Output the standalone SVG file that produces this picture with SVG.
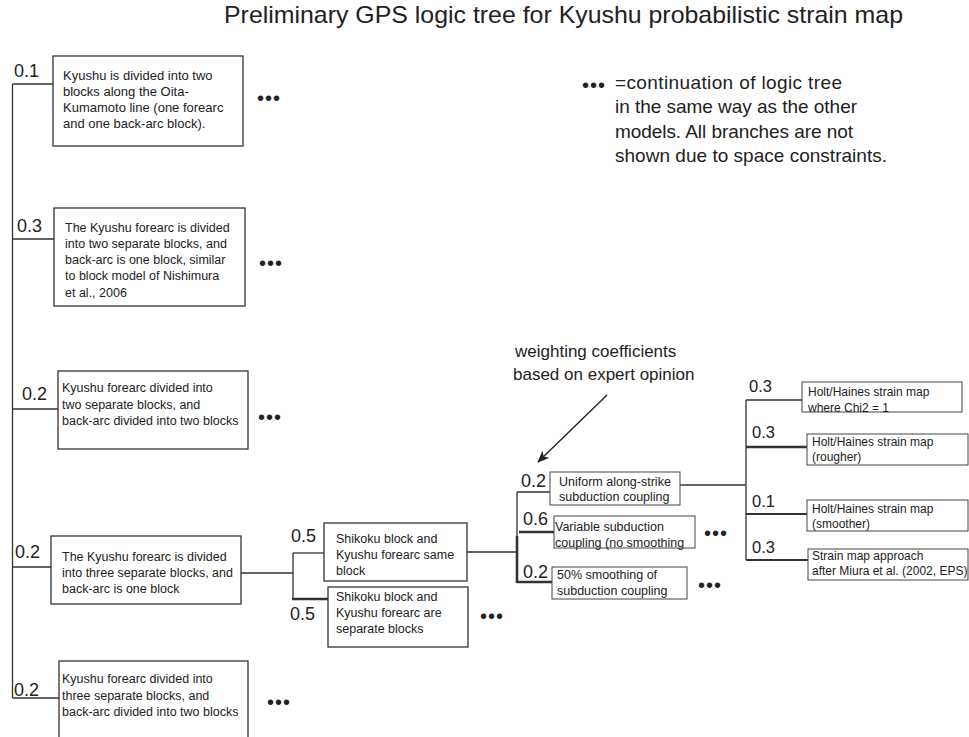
<svg xmlns="http://www.w3.org/2000/svg" width="969" height="737" viewBox="0 0 969 737">
<defs>
<style>
.bx{fill:#fff;stroke:#333;stroke-width:1.3}
.bxs{fill:#fff;stroke:#444;stroke-width:1}
.t{font-family:"Liberation Sans",Arial,sans-serif;fill:#222}
.s13{font-size:13px}
.s125{font-size:12.5px}
.s12{font-size:12px}
.w{font-family:"Liberation Sans",Arial,sans-serif;fill:#222;font-size:18px}
.wr{font-family:"Liberation Sans",Arial,sans-serif;fill:#222;font-size:16.5px}
.dots{font-family:"Liberation Sans",Arial,sans-serif;fill:#222;font-size:20px;letter-spacing:1px}
.ln{stroke:#333;stroke-width:1.3;fill:none}
.th{stroke-width:2.6}
.md{stroke-width:2}
</style>
<marker id="ah" markerWidth="12" markerHeight="10" refX="11" refY="5" orient="auto" markerUnits="userSpaceOnUse">
<path d="M0,0 L12,5 L0,10 L3,5 Z" fill="#222"/>
</marker>
</defs>
<rect width="969" height="737" fill="#fff"/>

<text class="t" x="224" y="23" font-size="24" textLength="679" lengthAdjust="spacingAndGlyphs">Preliminary GPS logic tree for Kyushu probabilistic strain map</text>

<g id="legend">
<text class="dots" x="582" y="92">•••</text>
<text class="t" font-size="19"><tspan x="615" y="89" textLength="227" lengthAdjust="spacing">=continuation of logic tree</tspan><tspan x="615" y="113" textLength="242" lengthAdjust="spacing">in the same way as the other</tspan><tspan x="615" y="138" textLength="238" lengthAdjust="spacing">models. All branches are not</tspan><tspan x="615" y="162" textLength="272" lengthAdjust="spacing">shown due to space constraints.</tspan></text>
</g>

<g id="annotation">
<text class="t" font-size="17"><tspan x="515" y="357">weighting coefficients</tspan><tspan x="513" y="380">based on expert opinion</tspan></text>
<line class="ln" x1="607" y1="395" x2="538" y2="462" marker-end="url(#ah)" style="stroke:#222;stroke-width:1.4"/>
</g>

<g id="connectors">
<path class="ln" d="M12.5,84 V698"/>
<path class="ln" d="M12.5,84 H53"/>
<path class="ln" d="M12.5,239 H54"/>
<path class="ln" d="M12.5,409 H58"/>
<path class="ln" d="M12.5,567 H51"/>
<path class="ln" d="M12.5,698 H59"/>
<path class="ln" d="M241,573 H293"/>
<path class="ln" d="M293,553 V599"/>
<path class="ln" d="M293,553 H324"/>
<path class="ln th" d="M292,599 H328"/>
<path class="ln" d="M467,552 H517"/>
<path class="ln" d="M517,492 V540"/>
<path class="ln th" d="M517,536 V583"/>
<path class="ln" d="M517,492 H550"/>
<path class="ln th" d="M519,532 H554"/>
<path class="ln th" d="M517,582 H552"/>
<path class="ln" d="M680,485 H746"/>
<path class="ln" d="M746,400 V560"/>
<path class="ln" d="M746,400 H802"/>
<path class="ln th" d="M746,447 H807"/>
<path class="ln md" d="M746,514 H807"/>
<path class="ln md" d="M746,560 H808"/>
</g>

<g id="weights">
<text class="w" x="14" y="77">0.1</text>
<text class="w" x="17" y="232">0.3</text>
<text class="w" x="22" y="400">0.2</text>
<text class="w" x="15" y="558">0.2</text>
<text class="w" x="14" y="696">0.2</text>
<text class="w" x="291" y="542">0.5</text>
<text class="w" x="290" y="620">0.5</text>
<text class="w" x="521" y="487">0.2</text>
<text class="w" x="523" y="525">0.6</text>
<text class="w" x="523" y="578">0.2</text>
<text class="wr" x="749" y="392">0.3</text>
<text class="wr" x="752" y="438">0.3</text>
<text class="wr" x="752" y="507">0.1</text>
<text class="wr" x="752" y="553">0.3</text>
</g>

<g id="n-two-blocks">
<rect class="bx" x="53" y="56" width="190" height="90"/>
<text class="t s13"><tspan x="63" y="80">Kyushu is divided into two</tspan><tspan x="63" y="96">blocks along the Oita-</tspan><tspan x="63" y="112">Kumamoto line (one forearc</tspan><tspan x="63" y="128">and one back-arc block).</tspan></text>
<text class="dots" x="257" y="105">•••</text>
</g>

<g id="n-nishimura">
<rect class="bx" x="54" y="208" width="191" height="98"/>
<text class="t s125"><tspan x="65" y="232">The Kyushu forearc is divided</tspan><tspan x="65" y="248">into two separate blocks, and</tspan><tspan x="65" y="264">back-arc is one block, similar</tspan><tspan x="65" y="280">to block model of Nishimura</tspan><tspan x="65" y="297">et al., 2006</tspan></text>
<text class="dots" x="259" y="270">•••</text>
</g>

<g id="n-two-two">
<rect class="bx" x="58" y="371" width="190" height="78"/>
<text class="t s125"><tspan x="62" y="392">Kyushu forearc divided into</tspan><tspan x="62" y="408.5">two separate blocks, and</tspan><tspan x="62" y="425">back-arc divided into two blocks</tspan></text>
<text class="dots" x="258" y="424">•••</text>
</g>

<g id="n-three-one">
<rect class="bx" x="51" y="536" width="190" height="68"/>
<text class="t s125"><tspan x="62" y="561">The Kyushu forearc is divided</tspan><tspan x="62" y="577">into three separate blocks, and</tspan><tspan x="62" y="593">back-arc is one block</tspan></text>
</g>

<g id="n-three-two">
<rect class="bx" x="59" y="661" width="189" height="90"/>
<text class="t s125"><tspan x="62" y="683">Kyushu forearc divided into</tspan><tspan x="62" y="699.5">three separate blocks, and</tspan><tspan x="62" y="716">back-arc divided into two blocks</tspan></text>
<text class="dots" x="267" y="709">•••</text>
</g>

<g id="n-shikoku-same">
<rect class="bx" x="324" y="523" width="143" height="58"/>
<text class="t s125"><tspan x="336" y="543">Shikoku block and</tspan><tspan x="336" y="559">Kyushu forearc same</tspan><tspan x="336" y="575">block</tspan></text>
</g>

<g id="n-shikoku-separate">
<rect class="bx" x="328" y="587" width="140" height="60"/>
<text class="t s125"><tspan x="336" y="601">Shikoku block and</tspan><tspan x="336" y="617">Kyushu forearc are</tspan><tspan x="336" y="633">separate blocks</tspan></text>
<text class="dots" x="480" y="623">•••</text>
</g>

<g id="n-uniform">
<rect class="bxs" x="550" y="472" width="130" height="33"/>
<text class="t s125"><tspan x="559" y="486">Uniform along-strike</tspan><tspan x="559" y="501">subduction coupling</tspan></text>
</g>

<g id="n-variable">
<rect class="bxs" x="554" y="516" width="141" height="32"/>
<text class="t s125"><tspan x="555" y="531">Variable subduction</tspan><tspan x="555" y="547">coupling (no smoothing</tspan></text>
<text class="dots" x="704" y="540">•••</text>
</g>

<g id="n-smoothing">
<rect class="bxs" x="552" y="567" width="135" height="32"/>
<text class="t s125"><tspan x="557" y="579">50% smoothing of</tspan><tspan x="557" y="595">subduction coupling</tspan></text>
<text class="dots" x="698" y="592">•••</text>
</g>

<g id="n-chi2">
<rect class="bxs" x="802" y="382" width="160" height="30"/>
<text class="t s12"><tspan x="808" y="396">Holt/Haines strain map</tspan><tspan x="808" y="412">where Chi2 = 1</tspan></text>
</g>

<g id="n-rougher">
<rect class="bxs" x="807" y="434" width="161" height="31"/>
<text class="t s12"><tspan x="812" y="446">Holt/Haines strain map</tspan><tspan x="812" y="461">(rougher)</tspan></text>
</g>

<g id="n-smoother">
<rect class="bxs" x="807" y="500" width="161" height="31"/>
<text class="t s12"><tspan x="812" y="513">Holt/Haines strain map</tspan><tspan x="812" y="528">(smoother)</tspan></text>
</g>

<g id="n-miura">
<rect class="bxs" x="808" y="549" width="160" height="31"/>
<text class="t s12"><tspan x="812" y="560">Strain map approach</tspan><tspan x="812" y="575">after Miura et al. (2002, EPS)</tspan></text>
</g>
</svg>
